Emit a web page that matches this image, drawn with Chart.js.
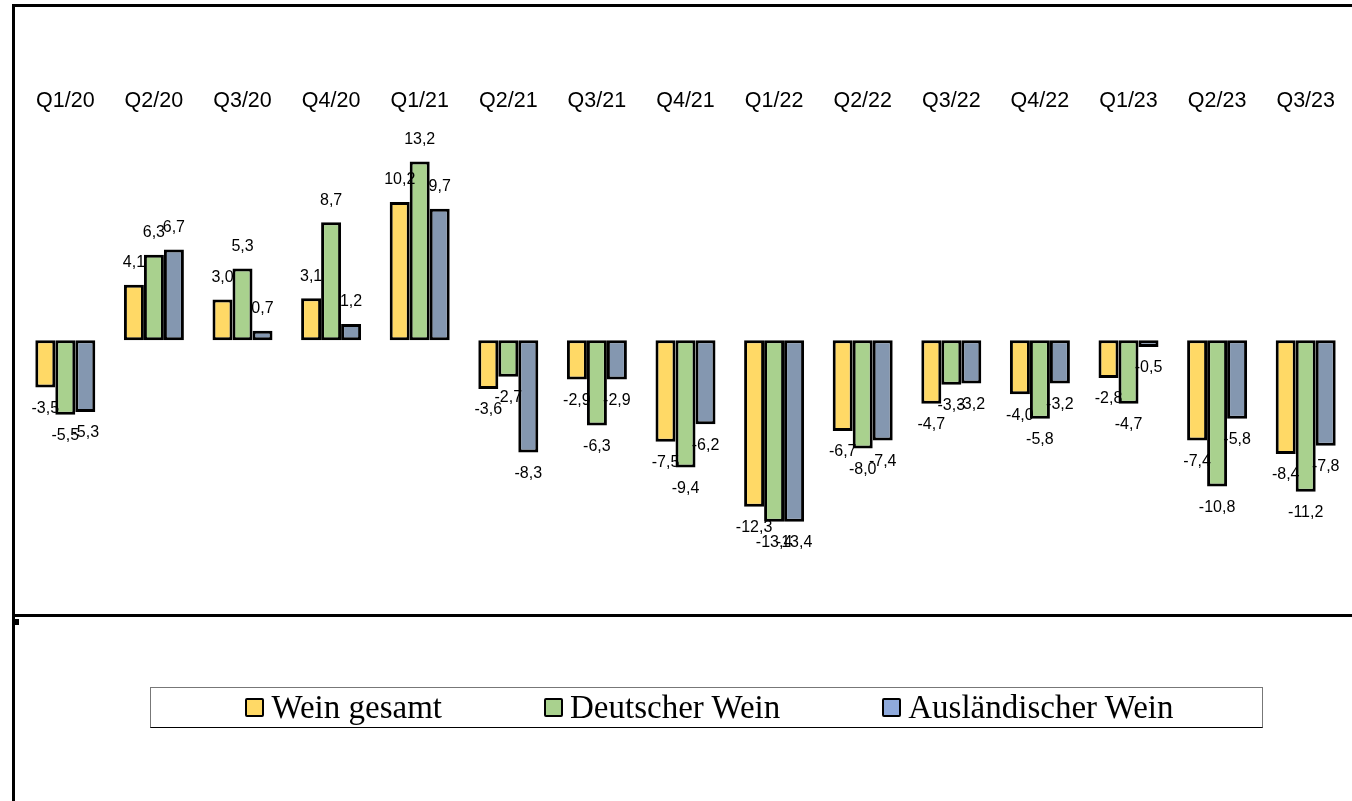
<!DOCTYPE html>
<html>
<head>
<meta charset="utf-8">
<script src="https://cdn.jsdelivr.net/npm/chart.js@4"></script>
<style>
  html, body { margin: 0; padding: 0; background: #fff; }
  #wrap { position: relative; width: 1352px; height: 801px; overflow: hidden; }
  #grafico { position: absolute; left: 0; top: 0; }
  #rahmen { position: absolute; left: 12px; top: 4px; width: 1345px; height: 607px;
            border-top: 3px solid #000; border-left: 3px solid #000; border-bottom: 3px solid #000; }
  #linie { position: absolute; left: 12px; top: 614px; width: 3px; height: 187px; background: #000; }
  #punkt { position: absolute; left: 15px; top: 619px; width: 4px; height: 6px; background: #000; }
  #legende { position: absolute; left: 150px; top: 687px; width: 1111px; height: 39px;
             border: 1px solid #777; border-bottom-color: #000;
             display: flex; justify-content: center; align-items: center; gap: 96px;
             font-family: "Liberation Serif", "DejaVu Serif", serif; font-size: 33px; color: #000; }
  #legende .eintrag { display: flex; align-items: center; padding-left: 6px; }
  #legende .kasten { width: 15px; height: 15px; border: 2px solid #000; border-radius: 2px; margin-right: 7px; }
</style>
</head>
<body>
<div id="wrap">
  <canvas id="grafico" width="1352" height="801"></canvas>
  <div id="rahmen"></div>
  <div id="linie"></div>
  <div id="punkt"></div>
  <div id="legende"></div>
</div>
<script>
// Quartale
const quartale = ["Q1/20", "Q2/20", "Q3/20", "Q4/20", "Q1/21", "Q2/21", "Q3/21", "Q4/21",
                  "Q1/22", "Q2/22", "Q3/22", "Q4/22", "Q1/23", "Q2/23", "Q3/23"];

// Veränderung in %
const weinGesamt = [-3.5, 4.1, 3.0, 3.1, 10.2, -3.6, -2.9, -7.5, -12.3, -6.7, -4.7, -4.0, -2.8, -7.4, -8.4];
const deutscherWein = [-5.5, 6.3, 5.3, 8.7, 13.2, -2.7, -6.3, -9.4, -13.4, -8.0, -3.3, -5.8, -4.7, -10.8, -11.2];
const auslaendischerWein = [-5.3, 6.7, 0.7, 1.2, 9.7, -8.3, -2.9, -6.2, -13.4, -7.4, -3.2, -3.2, -0.5, -5.8, -7.8];

const serienNamen = ["Wein gesamt", "Deutscher Wein", "Ausländischer Wein"];
const farben = ["#FFD966", "#A9D18E", "#8497B0"];
const legendenFarben = ["#FFD966", "#A9D18E", "#8FAADC"];

// Werte über/unter den Balken schreiben
const wertBeschriftung = {
    id: 'wertBeschriftung',
    afterDatasetsDraw(chart) {
        const ctx = chart.ctx;
        ctx.save();
        ctx.font = '16px "Liberation Sans", Arial, sans-serif';
        ctx.fillStyle = '#000';
        ctx.textAlign = 'center';
        ctx.textBaseline = 'middle';
        chart.data.datasets.forEach((ds, i) => {
            const meta = chart.getDatasetMeta(i);
            meta.data.forEach((bar, j) => {
                const v = ds.data[j];
                const txt = v.toFixed(1).replace('.', ',');
                const y = v >= 0 ? bar.y - 22 : bar.y + 21;
                ctx.fillText(txt, bar.x, y);
            });
        });
        ctx.restore();
    }
};

const datensaetze = [weinGesamt, deutscherWein, auslaendischerWein].map((werte, i) => ({
    label: serienNamen[i],
    data: werte,
    backgroundColor: farben[i],
    borderColor: '#000',
    borderWidth: 3,
    borderSkipped: false
}));

const grafik = new Chart(document.getElementById('grafico'), {
    type: 'bar',
    data: { labels: quartale, datasets: datensaetze },
    plugins: [wertBeschriftung],
    options: {
        responsive: false,
        animation: false,
        categoryPercentage: 0.677,
        barPercentage: 1.0,
        layout: { padding: { left: 21, right: 2, top: 81, bottom: 190 } },
        plugins: {
            legend: { display: false },
            title: { display: false },
            tooltip: { enabled: false }
        },
        scales: {
            x: {
                position: 'top',
                grid: { display: false, drawTicks: false },
                border: { display: false },
                ticks: {
                    color: '#000',
                    padding: 7,
                    maxRotation: 0,
                    autoSkip: false,
                    font: { family: '"Liberation Sans", Arial, sans-serif', size: 21.5 }
                }
            },
            y: {
                display: false,
                min: -20,
                max: 16.2
            }
        }
    }
});

// Legende als Text
const legende = document.getElementById('legende');
for (let i = 0; i < serienNamen.length; i++) {
    const e = document.createElement('div');
    e.className = 'eintrag';
    const k = document.createElement('span');
    k.className = 'kasten';
    k.style.background = legendenFarben[i];
    const t = document.createElement('span');
    t.textContent = serienNamen[i];
    e.appendChild(k);
    e.appendChild(t);
    legende.appendChild(e);
}
</script>
</body>
</html>
